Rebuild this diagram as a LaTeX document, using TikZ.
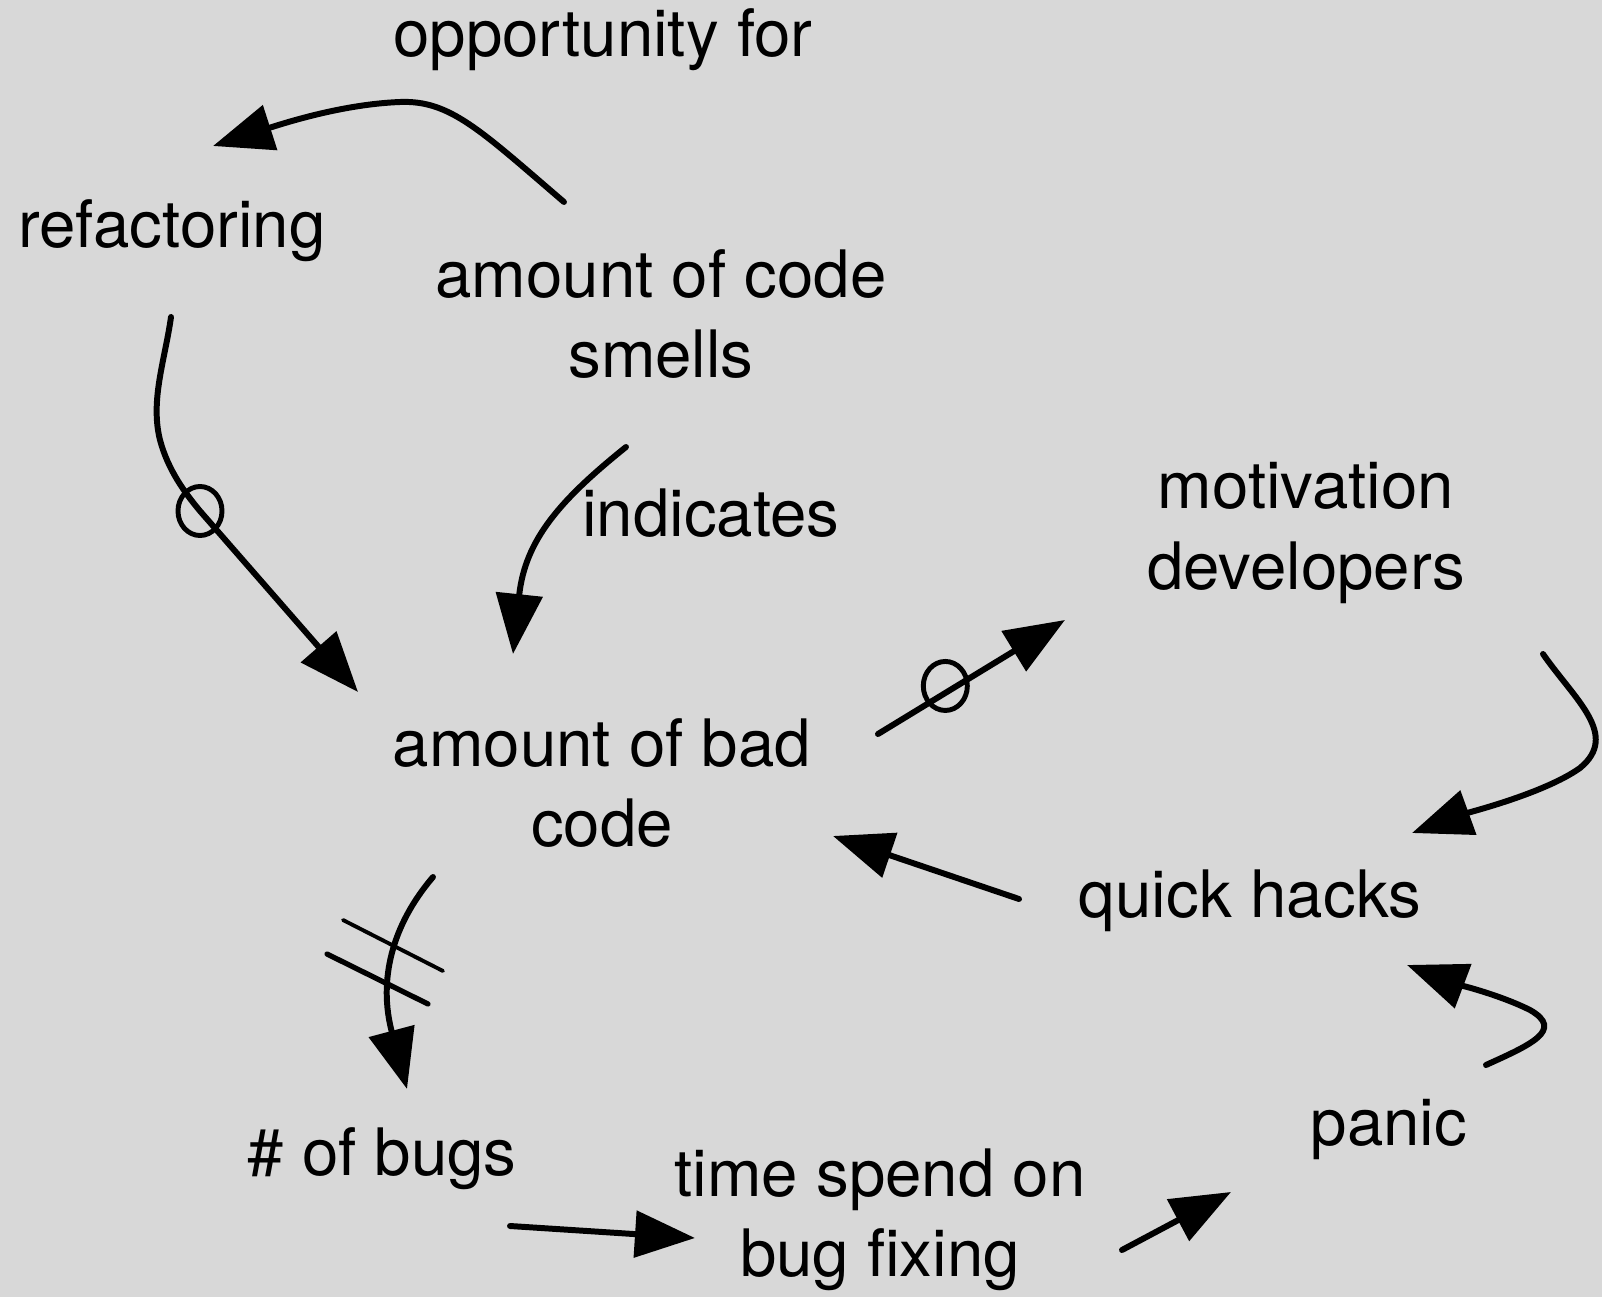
\documentclass[tikz,border=0pt]{standalone}
\usepackage{fontspec}
\setmainfont{TeX Gyre Heros}
\usetikzlibrary{arrows.meta,shapes.geometric}
\definecolor{bggray}{RGB}{216,216,216}

\begin{document}
\begin{tikzpicture}[x=.01cm,y=-.01cm,
 lbl/.style={font=\fontsize{18.6}{22.8}\selectfont,inner sep=0pt,align=center},
 link/.style={line width=1.7pt,line cap=round,-{Triangle[length=.6cm,width=.46cm]}},
 ring/.style={draw,ellipse,line width=1.4pt,minimum width=.44cm,minimum height=.49cm,inner sep=0pt},
 cutmark/.style={line width=#1,line cap=round}]
\useasboundingbox(0,0)rectangle(1602,1297);
\fill[bggray](0,0)rectangle(1602,1297);
% labels
\node[lbl,anchor=base](opp)at(603,57){opportunity for};
\node[lbl,anchor=base](ref)at(172,248){refactoring};
\node[lbl](smell)at(661,314){amount of code\\smells};
\node[lbl,anchor=base](ind)at(711,537){indicates};
\node[lbl](motiv)at(1306,533){motivation\\developers};
\node[lbl](bad)at(602,783){amount of bad\\code};
\node[lbl,anchor=base](hack)at(1250,917){quick hacks};
\node[lbl,anchor=base](bugs)at(382,1175){\# of bugs};
\node[lbl](fix)at(880,1220){time spend on\\bug fixing};
\node[lbl,anchor=base](panic)at(1389,1145){panic};
% connector ends
\coordinate(smellA)at(564,202);\coordinate(refB)at(213,146);
\coordinate(refA)at(171,317);\coordinate(refRing)at(200,511);\coordinate(badA)at(358,692);
\coordinate(smellB)at(626,447);\coordinate(badB)at(513,654);
\coordinate(badC)at(878,734);\coordinate(motivA)at(1065,620);
\coordinate(motivB)at(1543,654);\coordinate(hackA)at(1412,833);
\coordinate(hackB)at(1019,899);\coordinate(badD)at(833,836);
\coordinate(badE)at(433,877);\coordinate(bugsA)at(407,1089);
\coordinate(bugsB)at(510,1226);\coordinate(fixA)at(695,1238);
\coordinate(fixB)at(1122,1250);\coordinate(panicA)at(1231,1192);
\coordinate(panicB)at(1486,1065);\coordinate(hackC)at(1407,965);
% connectors
\draw[link](smellA)..controls(480,130)and(450,100)..(400,102)..controls(350,104)and(300,118)..(refB);
\draw[link](refA)..controls(165,360)and(150,400)..(160,440)..controls(168,470)and(185,493)..(refRing)--node[ring,pos=0]{}(badA);
\draw[link](smellB)..controls(560,500)and(525,540)..(badB);
\draw[link](badC)--node[ring,pos=.36,yshift=.07cm]{}(motivA);
\draw[link](motivB)..controls(1575,700)and(1620,735)..(1580,768)..controls(1545,793)and(1470,812)..(hackA);
\draw[link](hackB)--(badD);
\draw[link](badE)..controls(392,925)and(378,980)..(bugsA);
\draw[cutmark=1.1pt](343,920)--(443,971);\draw[cutmark=1.5pt](327,954)--(428,1004);
\draw[link](bugsB)--(fixA);
\draw[link](fixB)--(panicA);
\draw[link](panicB)..controls(1530,1045)and(1565,1030)..(1530,1010)..controls(1500,995)and(1460,985)..(hackC);
\end{tikzpicture}
\end{document}
